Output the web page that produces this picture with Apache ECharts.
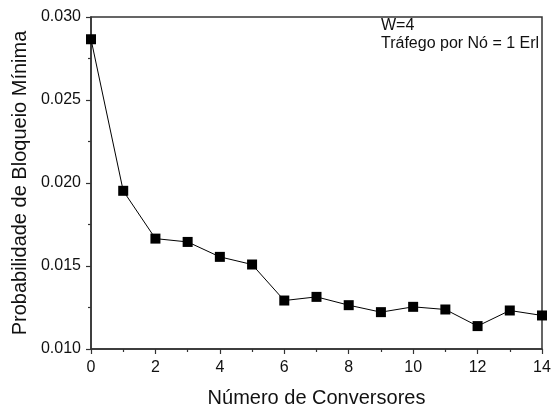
<!DOCTYPE html>
<html><head><meta charset="utf-8">
<script src="https://cdn.jsdelivr.net/npm/echarts@6/dist/echarts.min.js"></script>
<style>html,body{margin:0;padding:0;background:#fff}#c{width:552px;height:412px}</style>
</head><body><div id="c"></div>
<script>
var conversores = [0,1,2,3,4,5,6,7,8,9,10,11,12,13,14];
var bloqueio = [0.02866,0.01953,0.01665,0.01645,0.01555,0.01509,0.01292,0.01314,0.01264,0.01222,0.01254,0.01238,0.01138,0.01232,0.01202];
var annotation = ['W=4','Tráfego por Nó = 1 Erl'];
var xTitle = 'Número de Conversores';
var yTitle = 'Probabilidade de Bloqueio Mínima';

var chart = echarts.init(document.getElementById('c'), null, {renderer:'canvas'});
var font = 'Liberation Sans, Arial, sans-serif';
var axisCol = '#333';
chart.setOption({
  animation:false,
  grid:{left:91,right:10,top:17,bottom:63,containLabel:false,outerBoundsMode:'none',show:true,borderColor:axisCol,borderWidth:1.5,backgroundColor:'transparent'},
  xAxis:{type:'value',min:0,max:14,interval:2,
    name:xTitle,nameLocation:'middle',nameGap:39,
    nameTextStyle:{fontFamily:font,fontSize:20,color:'#111'},
    axisLine:{show:true,onZero:false,lineStyle:{color:axisCol,width:1.5}},
    axisTick:{show:true,inside:false,length:5,lineStyle:{color:axisCol,width:1.2}},
    minorTick:{show:true,splitNumber:2,length:3,lineStyle:{color:axisCol,width:1.2}},
    axisLabel:{fontFamily:font,fontSize:16,color:'#111',margin:11},
    splitLine:{show:false}},
  yAxis:{type:'value',min:0.010,max:0.030,interval:0.005,
    name:yTitle,nameLocation:'middle',nameGap:60,
    nameTextStyle:{fontFamily:font,fontSize:20,color:'#111'},
    axisLine:{show:true,onZero:false,lineStyle:{color:axisCol,width:1.5}},
    axisTick:{show:true,inside:false,length:5,lineStyle:{color:axisCol,width:1.2}},
    minorTick:{show:true,splitNumber:2,length:3,lineStyle:{color:axisCol,width:1.2}},
    axisLabel:{fontFamily:font,fontSize:16,color:'#111',margin:10,formatter:function(v){return v.toFixed(3);}},
    splitLine:{show:false}},
  graphic:[
    {type:'text',left:381,top:18,style:{text:annotation[0],fontFamily:font,fontSize:16,fill:'#111'}},
    {type:'text',left:381,top:36,style:{text:annotation[1],fontFamily:font,fontSize:16,fill:'#111'}}
  ],
  series:[{type:'line',data:conversores.map(function(x,i){return [x,bloqueio[i]];}),
    symbol:'rect',symbolSize:10,showAllSymbol:true,
    itemStyle:{color:'#000'},lineStyle:{color:'#000',width:1},clip:false}]
});
</script></body></html>
